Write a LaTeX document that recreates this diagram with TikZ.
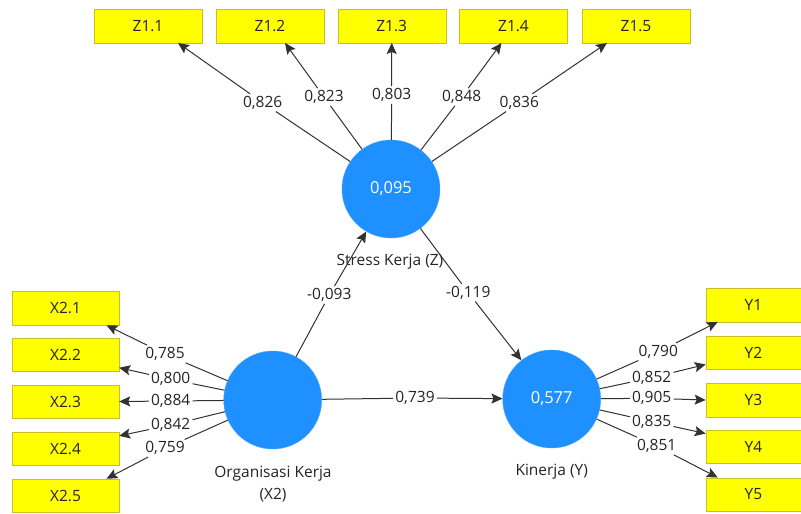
\documentclass[tikz,border=0pt]{standalone}
\usepackage{fontspec}
\setmainfont{Open Sans}
\usetikzlibrary{arrows.meta,calc}
\definecolor{plsblue}{RGB}{30,144,255}
\definecolor{plsyellow}{RGB}{255,255,0}
\definecolor{plsedge}{RGB}{205,190,40}
\definecolor{plsline}{RGB}{50,50,50}
\definecolor{plstext}{RGB}{35,35,35}

\begin{document}
\begin{tikzpicture}[x=1pt,y=-1pt,>={Stealth[length=11pt,width=10pt,inset=2pt]},
  font=\fontsize{15.5}{22}\selectfont,
  ind/.style={draw=plsedge,fill=plsyellow,text=plstext,minimum width=108pt,minimum height=33.5pt,inner sep=0pt},
  lv/.style={circle,fill=plsblue,draw=plsblue!80!white,text=white,minimum size=98pt,inner sep=0pt,font=\fontsize{16.5}{20}\selectfont},
  lbl/.style={text=plstext,inner sep=2pt},
  conn/.style={draw=plsline,line width=1pt}]
  \useasboundingbox (0,0) rectangle (801,514);
  \clip (0,0) rectangle (801,514);
  % latent variables
  \node[lv] (stress) at (391,189) {0,095};
  \node[lv] (org) at (272.7,400) {};
  \node[lv] (kin) at (551.7,399) {0,577};
  \node[lbl] at (390,262) {Stress Kerja (Z)};
  \node[lbl,align=center] at (273,484) {Organisasi Kerja\\(X2)};
  \node[lbl] at (551.7,471.7) {Kinerja (Y)};
  % indicators
  \node[ind] (z11) at (148,26) {Z1.1};
  \node[ind] (z12) at (270,26) {Z1.2};
  \node[ind] (z13) at (391.7,26) {Z1.3};
  \node[ind] (z14) at (513.5,26) {Z1.4};
  \node[ind] (z15) at (636,26) {Z1.5};
  \node[ind,minimum width=107pt] (x21) at (65.5,308.3) {X2.1};
  \node[ind,minimum width=107pt] (x22) at (65.5,354.8) {X2.2};
  \node[ind,minimum width=107pt] (x23) at (65.5,401.5) {X2.3};
  \node[ind,minimum width=107pt] (x24) at (65.5,448.8) {X2.4};
  \node[ind,minimum width=107pt] (x25) at (65.5,495.7) {X2.5};
  \node[ind,minimum width=95pt,anchor=west] (y1) at (705.7,305) {Y1};
  \node[ind,minimum width=95pt,anchor=west] (y2) at (705.7,352.5) {Y2};
  \node[ind,minimum width=95pt,anchor=west] (y3) at (705.7,400) {Y3};
  \node[ind,minimum width=95pt,anchor=west] (y4) at (705.7,446.5) {Y4};
  \node[ind,minimum width=95pt,anchor=west] (y5) at (705.7,494.5) {Y5};
  % loadings
  \node[lbl] (l826) at (262.7,102.7) {0,826};
  \node[lbl] (l823) at (324,97) {0,823};
  \node[lbl] (l803) at (391.7,95) {0,803};
  \node[lbl] (l848) at (461.7,97) {0,848};
  \node[lbl] (l836) at (519.3,102.7) {0,836};
  \node[lbl] (l785) at (165,354) {0,785};
  \node[lbl] (l800) at (170.7,379.3) {0,800};
  \node[lbl] (l884) at (170.7,401) {0,884};
  \node[lbl] (l842) at (170.7,425) {0,842};
  \node[lbl] (l759) at (165,448.3) {0,759};
  \node[lbl] (l790) at (658.3,351.7) {0,790};
  \node[lbl] (l852) at (651.7,377.7) {0,852};
  \node[lbl] (l905) at (651.7,398.3) {0,905};
  \node[lbl] (l835) at (651.7,421.7) {0,835};
  \node[lbl] (l851) at (656.7,446) {0,851};
  % path coefficients
  \node[lbl] (l093) at (329.3,295) {-0,093};
  \node[lbl] (l119) at (468.3,292.7) {-0,119};
  \node[lbl] (l739) at (415,398) {0,739};
  \draw[conn,->] (stress) -- (l826) -- ($(z11.south)+(30,0)$);
  \draw[conn,->] (stress) -- (l823) -- ($(z12.south)+(15,0)$);
  \draw[conn,->] (stress) -- (l803) -- (z13.south);
  \draw[conn,->] (stress) -- (l848) -- ($(z14.south)+(-12,0)$);
  \draw[conn,->] (stress) -- (l836) -- ($(z15.south)+(-29,0)$);
  \draw[conn,->] (org) -- (l785) -- ($(x21.south)+(41,0)$);
  \draw[conn,->] (org) -- (l800) -- ($(x22.south east)+(0,-4)$);
  \draw[conn,->] (org) -- (l884) -- (x23.east);
  \draw[conn,->] (org) -- (l842) -- ($(x24.north east)+(0,4)$);
  \draw[conn,->] (org) -- (l759) -- ($(x25.north)+(41,0)$);
  \draw[conn,->] (kin) -- (l790) -- ($(y1.south west)+(12,0)$);
  \draw[conn,->] (kin) -- (l852) -- ($(y2.south west)+(0,-5)$);
  \draw[conn,->] (kin) -- (l905) -- (y3.west);
  \draw[conn,->] (kin) -- (l835) -- ($(y4.north west)+(0,4)$);
  \draw[conn,->] (kin) -- (l851) -- ($(y5.north west)+(12,0)$);
  \draw[conn,->] (org) -- (l093) -- (stress);
  \draw[conn,->] (stress) -- (l119) -- (kin);
  \draw[conn,->] (org) -- (l739) -- (kin);
\end{tikzpicture}
\end{document}
